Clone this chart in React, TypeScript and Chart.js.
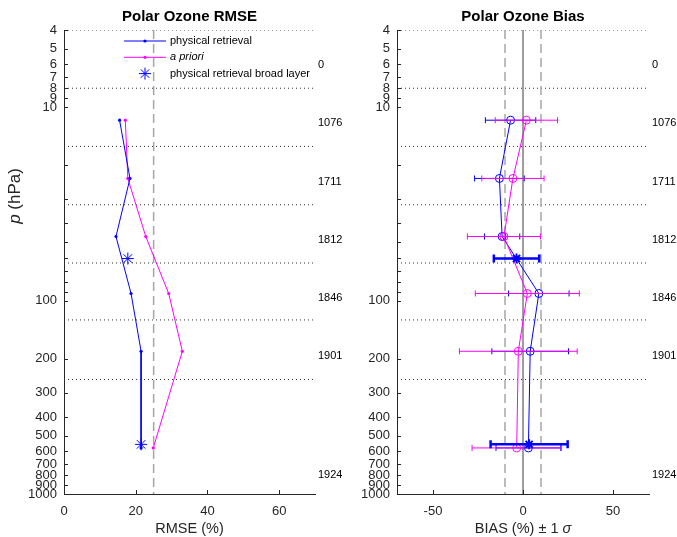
import React, { useEffect, useRef } from 'react';
import { Chart, registerables } from 'chart.js';

Chart.register(...registerables);

const FONT = '"Liberation Sans", Arial, Helvetica, sans-serif';
const AXIS = '#262626';
const BLUE = '#0000ff';
const MAGENTA = '#ff00ff';

// ---- data ----
const pressures = [11.7, 23.4, 46.7, 92, 183, 578];
const rmseRetrieval = [15.5, 18.4, 14.5, 18.7, 21.5, 21.5];
const rmseApriori = [17.1, 17.8, 22.8, 29.2, 33.0, 24.9];
const broadPressures = [60.7, 554];
const rmseBroad = [17.8, 21.5];

const biasRetrieval = [-6.9, -13.1, -11.6, 8.8, 4.0, 3.0];
const biasRetrievalSigma = [14.0, 13.8, 9.8, 16.8, 21.3, 18.0];
const biasApriori = [1.9, -5.6, -10.6, 2.4, -2.6, -3.5];
const biasAprioriSigma = [17.3, 17.3, 20.3, 28.9, 32.7, 24.8];
const biasBroad = [-3.6, 3.4];
const biasBroadSigma = [12.6, 21.4];

const layerBoundaries = [4, 8, 16, 32, 64, 126, 256];
const countPressures = [6, 12, 24, 48, 96, 192, 790];
const profileCounts = ['0', '1076', '1711', '1812', '1846', '1901', '1924'];

const yTickValues = [4, 5, 6, 7, 8, 9, 10, 20, 30, 40, 50, 60, 70, 80, 90, 100, 200, 300, 400, 500, 600, 700, 800, 900, 1000];
const yTickLabels = ['4', '5', '6', '7', '8', '9', '10', '', '', '', '', '', '', '', '', '100', '200', '300', '400', '500', '600', '700', '800', '900', '1000'];
const rmseTicks = [0, 20, 40, 60];
const biasTicks = [-50, 0, 50];
const rmseRange = [0, 70];
const biasRange = [-70, 70];
const rmseRef = [25];
const biasRefDashed = [-10, 10];
const biasRefSolid = [0];

// ---- helpers ----
function pts(xs: number[], ys: number[]) {
  return xs.map((x, i) => ({ x, y: ys[i] }));
}

function boundaryDatasets(range: number[]) {
  return layerBoundaries.map((b) => ({
    data: [{ x: range[0], y: b }, { x: range[1], y: b }],
    showLine: true,
    borderColor: '#333333',
    borderWidth: 1,
    borderDash: [1, 3],
    pointRadius: 0,
    order: 30,
  }));
}

function verticalDatasets(xs: number[], color: string, dash: number[], width: number) {
  return xs.map((x) => ({
    data: [{ x, y: 4 }, { x, y: 1000 }],
    showLine: true,
    borderColor: color,
    borderWidth: width,
    borderDash: dash,
    pointRadius: 0,
    order: 20,
  }));
}

function drawStar(ctx: CanvasRenderingContext2D, x: number, y: number, r: number) {
  ctx.beginPath();
  for (let k = 0; k < 4; k++) {
    const a = (k * Math.PI) / 4;
    ctx.moveTo(x - r * Math.cos(a), y - r * Math.sin(a));
    ctx.lineTo(x + r * Math.cos(a), y + r * Math.sin(a));
  }
  ctx.stroke();
}

const decorPlugin = {
  id: 'decor',
  afterDatasetDraw(chart: any, args: any) {
    const ds: any = chart.data.datasets[args.index];
    if (!ds.xErrors) return;
    const ctx: CanvasRenderingContext2D = chart.ctx;
    const xs = chart.scales.x;
    ctx.save();
    ctx.strokeStyle = ds.borderColor;
    ctx.lineWidth = ds.errorWidth || 1;
    ctx.setLineDash([]);
    args.meta.data.forEach((pt: any, i: number) => {
      const v = ds.data[i].x;
      const e = ds.xErrors[i];
      const x1 = xs.getPixelForValue(v - e);
      const x2 = xs.getPixelForValue(v + e);
      const y = pt.y;
      const c = ds.capSize || 3;
      ctx.beginPath();
      ctx.moveTo(x1, y);
      ctx.lineTo(x2, y);
      ctx.moveTo(x1, y - c);
      ctx.lineTo(x1, y + c);
      ctx.moveTo(x2, y - c);
      ctx.lineTo(x2, y + c);
      ctx.stroke();
    });
    ctx.restore();
  },
  afterDraw(chart: any, _args: any, opts: any) {
    const ctx: CanvasRenderingContext2D = chart.ctx;
    const xs = chart.scales.x;
    const ys = chart.scales.y;
    const area = chart.chartArea;
    ctx.save();
    // inward tick marks
    ctx.strokeStyle = AXIS;
    ctx.lineWidth = 1;
    ctx.setLineDash([]);
    ctx.beginPath();
    yTickValues.forEach((v) => {
      const y = Math.round(ys.getPixelForValue(v)) + 0.5;
      ctx.moveTo(area.left, y);
      ctx.lineTo(area.left + 4, y);
    });
    (opts.xTicks as number[]).forEach((v) => {
      const x = Math.round(xs.getPixelForValue(v)) + 0.5;
      ctx.moveTo(x, area.bottom);
      ctx.lineTo(x, area.bottom - 4);
    });
    ctx.stroke();

    // title
    ctx.fillStyle = '#000';
    ctx.font = `bold 15px ${FONT}`;
    ctx.textAlign = 'center';
    ctx.textBaseline = 'middle';
    ctx.fillText(opts.title, (area.left + area.right) / 2, 16.5);

    // x axis title
    ctx.fillStyle = AXIS;
    const cx = (area.left + area.right) / 2;
    const parts: { t: string; italic: boolean }[] = opts.xTitle;
    const fontFor = (it: boolean, size: number) => `${it ? 'italic ' : ''}${size}px ${FONT}`;
    let total = 0;
    parts.forEach((p) => {
      ctx.font = fontFor(p.italic, 14.5);
      total += ctx.measureText(p.t).width;
    });
    let x0 = cx - total / 2;
    ctx.textAlign = 'left';
    parts.forEach((p) => {
      ctx.font = fontFor(p.italic, 14.5);
      ctx.fillText(p.t, x0, 529);
      x0 += ctx.measureText(p.t).width;
    });

    // y axis title
    if (opts.yTitle) {
      ctx.save();
      ctx.translate(15, 196);
      ctx.rotate(-Math.PI / 2);
      const yParts = [{ t: 'p', italic: true }, { t: ' (hPa)', italic: false }];
      total = 0;
      yParts.forEach((p) => {
        ctx.font = fontFor(p.italic, 17);
        total += ctx.measureText(p.t).width;
      });
      x0 = -total / 2;
      yParts.forEach((p) => {
        ctx.font = fontFor(p.italic, 17);
        ctx.fillText(p.t, x0, 0);
        x0 += ctx.measureText(p.t).width;
      });
      ctx.restore();
    }

    // profile counts
    ctx.fillStyle = '#000';
    ctx.font = `11px ${FONT}`;
    ctx.textAlign = 'left';
    ctx.textBaseline = 'middle';
    countPressures.forEach((p, i) => {
      ctx.fillText(profileCounts[i], area.right + 3, ys.getPixelForValue(p) + 1);
    });

    // legend
    if (opts.legend) {
      const rows = [
        { label: 'physical retrieval', color: BLUE, italic: false, kind: 'line' },
        { label: 'a priori', color: MAGENTA, italic: true, kind: 'line' },
        { label: 'physical retrieval broad layer', color: BLUE, italic: false, kind: 'star' },
      ];
      rows.forEach((r, i) => {
        const y = 41 + i * 16.3;
        ctx.strokeStyle = r.color;
        ctx.fillStyle = r.color;
        ctx.lineWidth = 1;
        if (r.kind === 'line') {
          ctx.beginPath();
          ctx.moveTo(124, y);
          ctx.lineTo(166, y);
          ctx.stroke();
          ctx.beginPath();
          ctx.arc(145, y, 1.6, 0, Math.PI * 2);
          ctx.fill();
        } else {
          drawStar(ctx, 145, y, 6);
        }
        ctx.fillStyle = '#000';
        ctx.font = `${r.italic ? 'italic ' : ''}11px ${FONT}`;
        ctx.fillText(r.label, 170, y);
      });
    }
    ctx.restore();
  },
};

function makeOptions(cfg: {
  range: number[];
  ticks: number[];
  yWidth: number;
  padRight: number;
  title: string;
  xTitle: { t: string; italic: boolean }[];
  yTitle: boolean;
  legend: boolean;
}): any {
  return {
    responsive: false,
    animation: false,
    devicePixelRatio: 1,
    events: [],
    layout: { padding: { top: 30, left: 0, right: cfg.padRight, bottom: 0 } },
    plugins: {
      legend: { display: false },
      tooltip: { enabled: false },
      title: { display: false },
      decor: { title: cfg.title, xTitle: cfg.xTitle, yTitle: cfg.yTitle, legend: cfg.legend, xTicks: cfg.ticks },
    },
    scales: {
      x: {
        type: 'linear',
        min: cfg.range[0],
        max: cfg.range[1],
        afterBuildTicks: (s: any) => {
          s.ticks = cfg.ticks.map((v) => ({ value: v }));
        },
        afterFit: (s: any) => {
          s.height = 43;
        },
        ticks: {
          autoSkip: false,
          maxRotation: 0,
          padding: 10,
          color: AXIS,
          font: { family: FONT, size: 13 },
          callback: (v: any) => String(v),
        },
        grid: { display: false, drawTicks: false },
        border: { display: true, color: AXIS, width: 1 },
      },
      y: {
        type: 'logarithmic',
        reverse: true,
        min: 4,
        max: 1000,
        afterBuildTicks: (s: any) => {
          s.ticks = yTickValues.map((v) => ({ value: v }));
        },
        afterFit: (s: any) => {
          s.width = cfg.yWidth;
        },
        ticks: {
          autoSkip: false,
          padding: 7,
          color: AXIS,
          font: { family: FONT, size: 13 },
          callback: (v: any) => {
            const i = yTickValues.indexOf(Number(v));
            return i >= 0 ? yTickLabels[i] : '';
          },
        },
        grid: { display: false, drawTicks: false },
        border: { display: true, color: AXIS, width: 1 },
      },
    },
  };
}

function rmseConfig(): any {
  return {
    type: 'scatter',
    data: {
      datasets: [
        ...boundaryDatasets(rmseRange),
        ...verticalDatasets(rmseRef, '#a6a6a6', [9, 5], 1.5),
        {
          data: pts(rmseRetrieval, pressures),
          showLine: true,
          borderColor: BLUE,
          backgroundColor: BLUE,
          borderWidth: 1,
          pointRadius: 1.6,
          pointBorderWidth: 0,
          pointBackgroundColor: BLUE,
          order: 2,
        },
        {
          data: pts(rmseApriori, pressures),
          showLine: true,
          borderColor: MAGENTA,
          backgroundColor: MAGENTA,
          borderWidth: 1,
          pointRadius: 1.6,
          pointBorderWidth: 0,
          pointBackgroundColor: MAGENTA,
          order: 3,
        },
        {
          data: pts(rmseBroad, broadPressures),
          showLine: false,
          pointStyle: 'star',
          pointRadius: 6,
          borderColor: BLUE,
          pointBorderColor: BLUE,
          pointBorderWidth: 1,
          order: 1,
        },
      ],
    },
    options: makeOptions({
      range: rmseRange,
      ticks: rmseTicks,
      yWidth: 64,
      padRight: 35,
      title: 'Polar Ozone RMSE',
      xTitle: [{ t: 'RMSE (%)', italic: false }],
      yTitle: true,
      legend: true,
    }),
    plugins: [decorPlugin],
  };
}

function biasConfig(): any {
  return {
    type: 'scatter',
    data: {
      datasets: [
        ...boundaryDatasets(biasRange),
        ...verticalDatasets(biasRefDashed, '#a6a6a6', [9, 5], 1.5),
        ...verticalDatasets(biasRefSolid, '#7f7f7f', [], 1.5),
        {
          data: pts(biasRetrieval, pressures),
          xErrors: biasRetrievalSigma,
          capSize: 3,
          showLine: true,
          borderColor: BLUE,
          borderWidth: 1,
          pointRadius: 4,
          pointBorderWidth: 1,
          pointBorderColor: BLUE,
          pointBackgroundColor: 'rgba(0,0,0,0)',
          order: 3,
        },
        {
          data: pts(biasApriori, pressures),
          xErrors: biasAprioriSigma,
          capSize: 3,
          showLine: true,
          borderColor: MAGENTA,
          borderWidth: 1,
          pointRadius: 4,
          pointBorderWidth: 1,
          pointBorderColor: MAGENTA,
          pointBackgroundColor: 'rgba(0,0,0,0)',
          order: 2,
        },
        {
          data: pts(biasBroad, broadPressures),
          xErrors: biasBroadSigma,
          capSize: 4,
          errorWidth: 2.5,
          showLine: false,
          borderColor: BLUE,
          pointStyle: 'star',
          pointRadius: 5,
          pointBorderColor: BLUE,
          pointBorderWidth: 2,
          order: 1,
        },
      ],
    },
    options: makeOptions({
      range: biasRange,
      ticks: biasTicks,
      yWidth: 57,
      padRight: 28,
      title: 'Polar Ozone Bias',
      xTitle: [
        { t: 'BIAS (%) \u00b1 1 ', italic: false },
        { t: '\u03c3', italic: true },
      ],
      yTitle: false,
      legend: false,
    }),
    plugins: [decorPlugin],
  };
}

export default function App() {
  const leftRef = useRef<HTMLCanvasElement | null>(null);
  const rightRef = useRef<HTMLCanvasElement | null>(null);

  useEffect(() => {
    const a = new Chart(leftRef.current as HTMLCanvasElement, rmseConfig());
    const b = new Chart(rightRef.current as HTMLCanvasElement, biasConfig());
    return () => {
      a.destroy();
      b.destroy();
    };
  }, []);

  return (
    <div style={{ position: 'fixed', left: 0, top: 0, width: 677, height: 537, background: '#fff' }}>
      <canvas ref={leftRef} width={350} height={537} style={{ position: 'absolute', left: 0, top: 0, width: 350, height: 537 }} />
      <canvas ref={rightRef} width={337} height={537} style={{ position: 'absolute', left: 340, top: 0, width: 337, height: 537 }} />
    </div>
  );
}
